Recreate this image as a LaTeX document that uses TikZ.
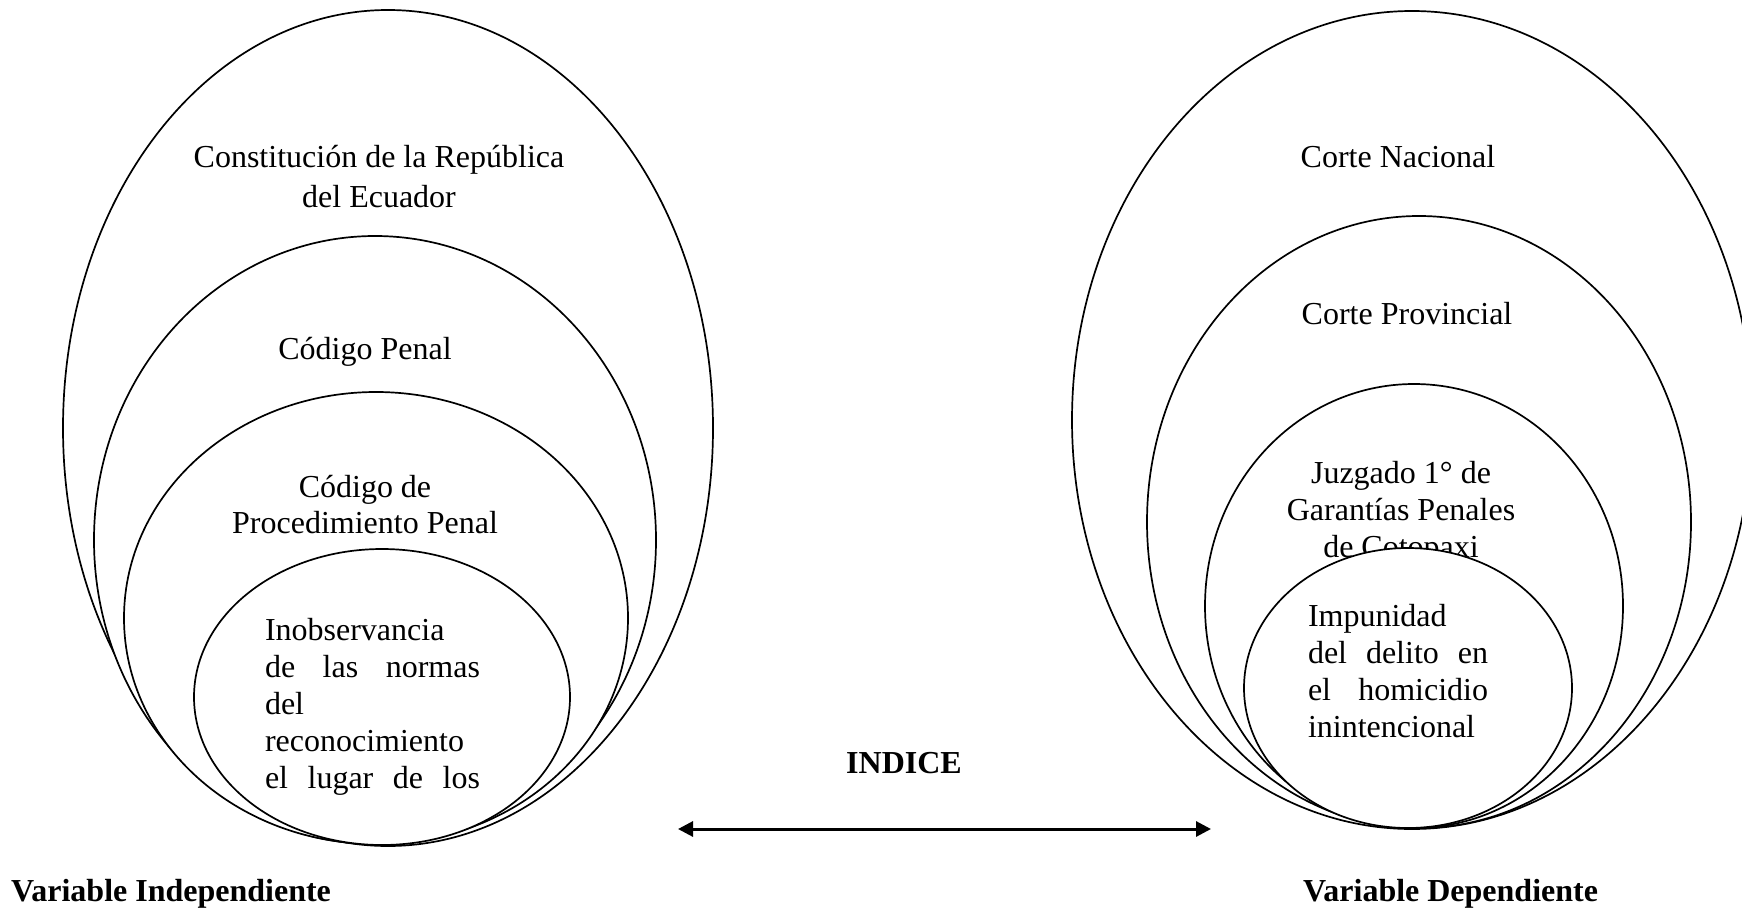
\documentclass[tikz,border=0pt]{standalone}
\usepackage{fontspec}
\setmainfont{Liberation Serif}
\usetikzlibrary{shapes.geometric,arrows.meta}
\begin{document}
\begin{tikzpicture}[x=1pt,y=-1pt,
  ring/.style={ellipse,draw=black,line width=1.7pt,fill=white,inner sep=0pt,outer sep=0pt},
  lbl/.style={inner sep=0pt,font=\fontsize{32}{37}\selectfont,align=center},
  jblock/.style={inner sep=0pt,font=\fontsize{32}{37}\selectfont,align=left},
  head/.style={inner sep=0pt,font=\fontsize{32}{37}\selectfont\bfseries}]
\clip (0,0) rectangle (1742,910);
\useasboundingbox (0,0) rectangle (1742,910);
% left group
\node[ring,minimum width=650pt,minimum height=836pt] (E1) at (388,428) {};
\node[ring,minimum width=562pt,minimum height=608pt] (E2) at (375,540) {};
\node[ring,minimum width=504pt,minimum height=452pt] (E3) at (376,618) {};
\node[ring,minimum width=376pt,minimum height=296pt] (E4) at (382,697) {};
\node[lbl,font=\fontsize{32}{40}\selectfont] (t1) at (379,177) {Constitución de la República\\del Ecuador};
\node[lbl] (t2) at (365,352) {Código Penal};
\node[lbl,font=\fontsize{32}{36}\selectfont] (t3) at (365,505) {Código de\\Procedimiento Penal};
\node[jblock] (t4) at (372.5,707) {\makebox[215pt][l]{Inobservancia}\\\makebox[215pt][s]{de las normas}\\\makebox[215pt][l]{del}\\\makebox[215pt][l]{reconocimiento}\\\makebox[215pt][s]{el lugar de los}};
% right group
\node[ring,minimum width=680pt,minimum height=818pt] (R1) at (1412,420) {};
\node[ring,minimum width=544pt,minimum height=612pt] (R2) at (1419,522) {};
\node[ring,minimum width=418pt,minimum height=444pt] (R3) at (1414,606) {};
\node[lbl] (s3) at (1401,513) {Juzgado 1° de\\Garantías Penales\\de Cotopaxi};
\node[ring,minimum width=328pt,minimum height=280pt] (R4) at (1408,688) {};
\node[lbl] (s1) at (1398,157) {Corte Nacional};
\node[lbl] (s2) at (1407,314) {Corte Provincial};
\node[jblock] (s4) at (1398,671) {\makebox[180pt][l]{Impunidad}\\\makebox[180pt][s]{del delito en}\\\makebox[180pt][s]{el homicidio}\\\makebox[180pt][l]{inintencional}};
% middle
\node[head] (ind) at (904,763) {INDICE};
\coordinate (aL) at (678,829);
\coordinate (aR) at (1211,829);
\draw[line width=3pt,{Triangle[length=15pt,width=15pt]}-{Triangle[length=15pt,width=15pt]}] (aL) -- (aR);
\node[head,anchor=west] (vi) at (11,894) {Variable Independiente};
\node[head,anchor=west] (vd) at (1303,894) {Variable Dependiente};
\end{tikzpicture}
\end{document}
